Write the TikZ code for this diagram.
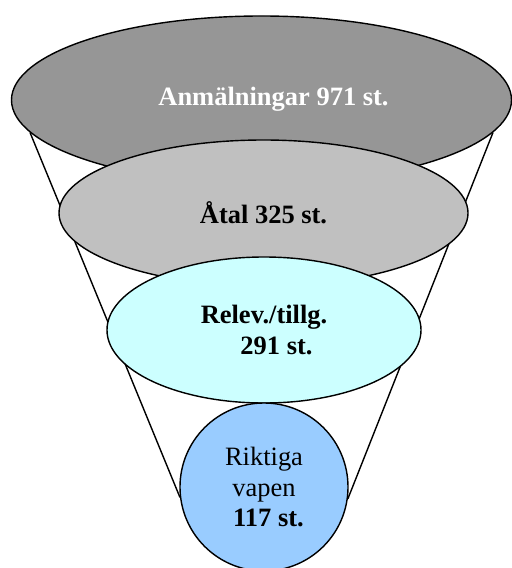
\documentclass[tikz,border=0pt]{standalone}
\usepackage{fontspec}
\setmainfont{Liberation Serif}
\usetikzlibrary{shapes.geometric,backgrounds}
\definecolor{graydark}{HTML}{969696}
\definecolor{graylight}{HTML}{C0C0C0}
\definecolor{turquoise}{HTML}{CCFFFF}
\definecolor{paleblue}{HTML}{99CCFF}
\begin{document}
\begin{tikzpicture}[x=0.03cm, y=-0.03cm,
    level/.style={draw, ellipse, line width=1.2pt, inner sep=0pt, align=center,
        font=\fontsize{22.6}{26}\selectfont\bfseries}]
    \useasboundingbox (0,0) rectangle (511,568);

    \node (anm) [level, fill=graydark, text=white, minimum width=15cm, minimum height=5.04cm] at (261.5,100)
        {\raisebox{0.25cm}{\hspace*{0.72cm}Anmälningar 971 st.}};
    \node (atal) [level, fill=graylight, minimum width=12.27cm, minimum height=4.38cm] at (263.5,213) {Åtal 325 st.};
    \node (relev) [level, fill=turquoise, minimum width=9.42cm, minimum height=4.38cm] at (264,330)
        {Relev./tillg.\\ \hspace*{0.75cm}291 st.};
    \node (vapen) [level, circle, fill=paleblue, minimum size=5.04cm, font=\fontsize{22.6}{26}\selectfont] at (264,487)
        {Riktiga\\ vapen\\ \hspace*{0.27cm}\textbf{117 st.}};

    \begin{scope}[on background layer]
        \draw[line width=1.2pt] (anm.188) -- (vapen.187.5);
        \draw[line width=1.2pt] (anm.352.4) -- (vapen.352);
    \end{scope}
\end{tikzpicture}
\end{document}
